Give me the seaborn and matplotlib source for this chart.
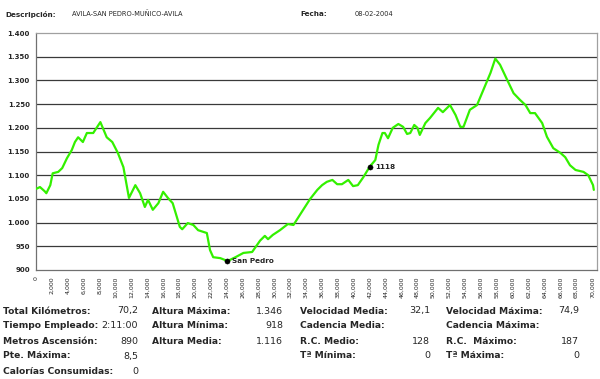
import matplotlib
matplotlib.use("Agg")
import matplotlib.pyplot as plt
import seaborn as sns
import pandas as pd

# perfil de la ruta: distancia (km) y altura (m)
km = [0.0, 0.5, 1.1, 1.3, 1.8, 2.1, 2.8, 3.3, 3.9, 4.5, 4.9, 5.3, 5.9, 6.4, 7.2, 8.1,
      8.9, 9.6, 10.3, 11.0, 11.7, 12.5, 13.1, 13.7, 14.1, 14.7, 15.4, 16.0, 16.6, 17.2,
      18.1, 18.4, 19.1, 19.8, 20.4, 21.5, 21.9, 22.3, 23.2, 23.8, 24.0, 25.1, 26.1, 27.2,
      28.2, 28.8, 29.2, 29.8, 30.7, 31.7, 32.4, 33.2, 34.5, 35.4, 36.0, 36.6, 37.3, 37.9,
      38.5, 39.3, 39.9, 40.5, 41.2, 42.0, 42.7, 43.1, 43.6, 43.9, 44.3, 44.9, 45.6, 46.2,
      46.7, 47.1, 47.6, 48.0, 48.3, 49.0, 49.6, 50.6, 51.2, 52.1, 52.8, 53.4, 53.8, 54.6,
      55.5, 56.3, 57.2, 57.8, 58.4, 59.3, 60.1, 60.9, 61.6, 62.2, 62.8, 63.7, 64.3, 65.1,
      66.0, 66.6, 67.2, 67.9, 68.9, 69.5, 70.1, 70.2]
altura = [1071, 1075, 1066, 1062, 1079, 1104, 1107, 1115, 1136, 1153, 1170, 1180, 1170, 1189, 1189, 1212,
          1180, 1170, 1147, 1117, 1052, 1079, 1062, 1033, 1048, 1027, 1041, 1065, 1052, 1041,
          991, 986, 999, 995, 984, 978, 942, 927, 925, 921, 918, 927, 936, 938,
          962, 972, 965, 974, 984, 997, 995, 1016, 1050, 1069, 1079, 1086, 1090, 1081,
          1081, 1090, 1077, 1079, 1096, 1118, 1132, 1164, 1189, 1189, 1178, 1200, 1208, 1202,
          1187, 1189, 1206, 1200, 1185, 1210, 1221, 1242, 1233, 1248, 1227, 1202, 1202, 1238,
          1248, 1280, 1316, 1346, 1333, 1301, 1273, 1259, 1248, 1231, 1231, 1210, 1181, 1157,
          1147, 1138, 1121, 1111, 1107, 1100, 1079, 1069]

puntos_km = [24.0, 42.0]
puntos_alt = [918, 1118]
puntos_nombre = ["San Pedro", "1118"]

y_ticks = [900, 950, 1000, 1050, 1100, 1150, 1200, 1250, 1300, 1350, 1400]
x_ticks = list(range(0, 71, 2))

descripcion = "AVILA-SAN PEDRO-MUÑICO-AVILA"
fecha = "08-02-2004"

# tabla de resumen: (etiqueta, valor) por columna
col1 = [("Total Kilómetros:", "70,2"), ("Tiempo Empleado:", "2:11:00"),
        ("Metros Ascensión:", "890"), ("Pte. Máxima:", "8,5"),
        ("Calorías Consumidas:", "0")]
col2 = [("Altura Máxima:", "1.346"), ("Altura Mínima:", "918"), ("Altura Media:", "1.116")]
col3 = [("Velocidad Media:", "32,1"), ("Cadencia Media:", ""), ("R.C. Medio:", "128"),
        ("Tª Mínima:", "0")]
col4 = [("Velocidad Máxima:", "74,9"), ("Cadencia Máxima:", ""), ("R.C.  Máximo:", "187"),
        ("Tª Máxima:", "0")]

sns.set_style("white")
plt.rcParams['font.family'] = ['DejaVu Sans']

df = pd.DataFrame({"km": km, "altura": altura})

W, H = 600, 379
fig = plt.figure(figsize=(W / 100, H / 100), dpi=100)
ax = fig.add_axes([36 / W, 1 - 270 / H, 561 / W, 237 / H])

for y in y_ticks[1:-1]:
    ax.axhline(y, color="#3a3a3a", lw=0.9, zorder=1)

sns.lineplot(data=df, x="km", y="altura", color="#33f000", lw=1.6, ax=ax, zorder=3)
sns.scatterplot(x=puntos_km, y=puntos_alt, color="black", s=14, ax=ax, zorder=4,
                edgecolor="black")
for xk, ya, name in zip(puntos_km, puntos_alt, puntos_nombre):
    ax.annotate(name, (xk, ya), xytext=(4, 0), textcoords="offset points",
                fontsize=5.2, fontweight="bold", va="center", zorder=5)

ax.set_xlim(0, 70.6)
ax.set_ylim(900, 1400)
ax.set_yticks(y_ticks)
ax.set_yticklabels([f"{v:,}".replace(",", ".") for v in y_ticks],
                   fontsize=5, fontweight="bold")
ax.set_xticks(x_ticks)
ax.set_xticklabels(["0" if v == 0 else f"{v},000" for v in x_ticks],
                   rotation=90, fontsize=4.5)
ax.tick_params(axis="both", length=3, width=0.6, color="black", pad=1.5)
ax.set_xlabel("")
ax.set_ylabel("")
for side in ["top", "right"]:
    ax.spines[side].set_color("#a0a0a0")
    ax.spines[side].set_linewidth(0.9)
for side in ["left", "bottom"]:
    ax.spines[side].set_color("#707070")
    ax.spines[side].set_linewidth(0.9)

# cabecera
fig.text(5 / W, 1 - 14 / H, "Descripción:", fontsize=5.2, fontweight="bold", va="center")
fig.text(72 / W, 1 - 14 / H, descripcion, fontsize=4.8, va="center")
fig.text(300 / W, 1 - 14 / H, "Fecha:", fontsize=5.2, fontweight="bold", va="center")
fig.text(355 / W, 1 - 14 / H, fecha, fontsize=4.8, va="center")

# resumen inferior
filas_y = [311, 326, 341, 356, 371]
columnas = [(col1, 3, 138), (col2, 152, 283), (col3, 300, 430), (col4, 446, 579)]
for col, xl, xv in columnas:
    for (lab, val), yy in zip(col, filas_y):
        fig.text(xl / W, 1 - yy / H, lab, fontsize=6.6, fontweight="bold", va="center")
        fig.text(xv / W, 1 - yy / H, val, fontsize=6.8, ha="right", va="center")

fig.savefig("out.png", dpi=100)
